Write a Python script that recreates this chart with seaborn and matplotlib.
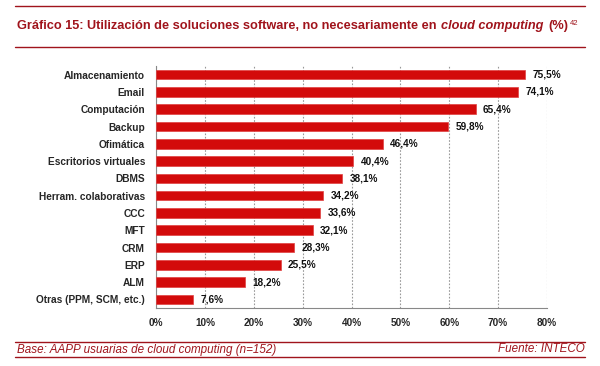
import matplotlib
matplotlib.use("Agg")
import matplotlib.pyplot as plt
import seaborn as sns
import pandas as pd
from matplotlib.lines import Line2D

categories = ["Almacenamiento", "Email", "Computación", "Backup", "Ofimática",
              "Escritorios virtuales", "DBMS", "Herram. colaborativas", "CCC",
              "MFT", "CRM", "ERP", "ALM", "Otras (PPM, SCM, etc.)"]
values = [75.5, 74.1, 65.4, 59.8, 46.4, 40.4, 38.1, 34.2, 33.6, 32.1, 28.3, 25.5, 18.2, 7.6]
xticks = [0, 10, 20, 30, 40, 50, 60, 70, 80]

sns.set_style("white")
plt.rcParams['font.family'] = ['Liberation Sans', 'DejaVu Sans']

df = pd.DataFrame({"cat": categories, "val": values})
fig = plt.figure(figsize=(6.0, 3.66), dpi=100)
ax = fig.add_axes([156/600, 1-308/366, (547-156)/600, (308-66)/366])

red = "#D30B0B"
sns.barplot(data=df, y="cat", x="val", color=red, width=0.55, ax=ax,
            saturation=1, edgecolor="#E04040", linewidth=0.5, zorder=3)

ax.set_xlim(0, 80)
ax.set_ylim(len(categories)-0.5, -0.5)
ax.set_xticks(xticks)
ax.set_xticklabels([f"{t}%" for t in xticks], fontsize=7.2, fontweight="bold")
ax.set_xlabel("")
ax.set_ylabel("")
ax.set_yticks(range(len(categories)))
ax.set_yticklabels(categories, fontsize=7.3, fontweight="bold")
ax.tick_params(axis="y", length=0, pad=8)
ax.tick_params(axis="x", length=3, color="#888888", pad=4)
ax.set_yticks([i + 0.5 for i in range(-1, len(categories))], minor=True)
ax.tick_params(axis="y", which="minor", length=3, color="#888888", direction="out")

ax.xaxis.grid(True, linestyle=(0, (1.5, 1.5)), color="#999999", linewidth=0.8, zorder=0)
ax.set_axisbelow(True)
for s in ["top", "right"]:
    ax.spines[s].set_visible(False)
for s in ["left", "bottom"]:
    ax.spines[s].set_color("#888888")
    ax.spines[s].set_linewidth(0.8)

for i, v in enumerate(values):
    ax.text(v + 1.5, i, f"{v:.1f}%".replace(".", ","), va="center", ha="left",
            fontsize=7.2, fontweight="bold", color="#111111")

dark = "#A0141C"
for y in [6, 46.5, 341.5, 357]:
    fig.add_artist(Line2D([15/600, 585/600], [1-y/366, 1-y/366], color=dark, linewidth=1.0))

ty = 1-29/366
t1 = fig.text(17/600, ty, "Gráfico 15: Utilización de soluciones software, no necesariamente en",
              fontsize=9.2, fontweight="bold", color=dark, va="baseline", ha="left")
t2 = ax.annotate("cloud computing", xy=(1, 0), xycoords=t1, xytext=(3, 0),
                 textcoords="offset points", fontsize=9.2, fontweight="bold",
                 fontstyle="italic", color=dark, va="bottom", ha="left",
                 annotation_clip=False)
t3 = ax.annotate("(%)", xy=(1, 0), xycoords=t2, xytext=(4, 0),
                 textcoords="offset points", fontsize=9.2, fontweight="bold",
                 color=dark, va="bottom", ha="left", annotation_clip=False)
ax.annotate("42", xy=(1, 1), xycoords=t3, xytext=(1, 0),
            textcoords="offset points", fontsize=5.5, color=dark,
            va="top", ha="left", annotation_clip=False)

fb = 1-352.5/366
fig.text(17/600, fb, "Base: AAPP usuarias de cloud computing (n=152)", fontsize=8.4,
         fontstyle="italic", color=dark, va="baseline", ha="left")
fig.text(585/600, fb, "Fuente: INTECO", fontsize=8.4,
         fontstyle="italic", color=dark, va="baseline", ha="right")

fig.savefig("out.png", dpi=100)
